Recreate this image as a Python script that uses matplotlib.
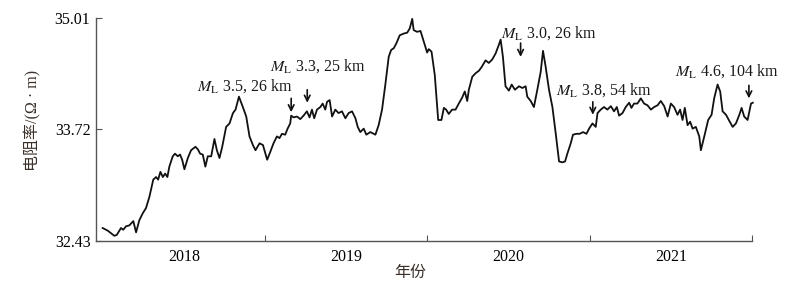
import numpy as np
import matplotlib
matplotlib.use("Agg")
import matplotlib.pyplot as plt

plt.rcParams['font.family'] = ['Liberation Serif', 'Noto Sans CJK SC']
plt.rcParams['mathtext.fontset'] = 'stix'

# time in decimal years, resistivity in ohm*m
years = np.array([
    2017.998, 2018.029, 2018.049, 2018.070, 2018.085, 2018.111, 2018.125, 2018.142, 2018.162, 2018.187,
    2018.204, 2018.224, 2018.245, 2018.265, 2018.286, 2018.310, 2018.327, 2018.340, 2018.354, 2018.369,
    2018.383, 2018.397, 2018.409, 2018.430, 2018.444, 2018.461, 2018.475, 2018.488, 2018.502, 2018.523,
    2018.543, 2018.570, 2018.585, 2018.599, 2018.615, 2018.631, 2018.646, 2018.667, 2018.687, 2018.702,
    2018.718, 2018.735, 2018.759, 2018.780, 2018.801, 2018.817, 2018.838, 2018.862, 2018.883, 2018.903,
    2018.924, 2018.940, 2018.965, 2018.986, 2019.012, 2019.031, 2019.051, 2019.072, 2019.088, 2019.103,
    2019.123, 2019.138, 2019.154, 2019.160, 2019.175, 2019.196, 2019.216, 2019.236, 2019.257, 2019.273,
    2019.288, 2019.302, 2019.319, 2019.340, 2019.354, 2019.370, 2019.381, 2019.397, 2019.412, 2019.432,
    2019.452, 2019.473, 2019.494, 2019.514, 2019.535, 2019.556, 2019.570, 2019.586, 2019.607, 2019.623,
    2019.648, 2019.679, 2019.699, 2019.720, 2019.741, 2019.761, 2019.776, 2019.792, 2019.809, 2019.829,
    2019.854, 2019.875, 2019.891, 2019.906, 2019.915, 2019.936, 2019.957, 2019.977, 2019.998, 2020.008,
    2020.025, 2020.045, 2020.066, 2020.086, 2020.101, 2020.115, 2020.131, 2020.152, 2020.173, 2020.193,
    2020.214, 2020.230, 2020.245, 2020.255, 2020.276, 2020.296, 2020.317, 2020.333, 2020.358, 2020.378,
    2020.399, 2020.420, 2020.440, 2020.451, 2020.465, 2020.481, 2020.502, 2020.519, 2020.539, 2020.564,
    2020.585, 2020.605, 2020.615, 2020.636, 2020.656, 2020.677, 2020.698, 2020.712, 2020.728, 2020.749,
    2020.770, 2020.790, 2020.811, 2020.831, 2020.848, 2020.862, 2020.883, 2020.897, 2020.918, 2020.938,
    2020.959, 2020.980, 2020.996, 2021.017, 2021.037, 2021.048, 2021.068, 2021.088, 2021.109, 2021.130,
    2021.150, 2021.167, 2021.181, 2021.202, 2021.222, 2021.243, 2021.257, 2021.273, 2021.294, 2021.315,
    2021.335, 2021.356, 2021.377, 2021.397, 2021.418, 2021.438, 2021.459, 2021.480, 2021.500, 2021.520,
    2021.541, 2021.557, 2021.572, 2021.586, 2021.603, 2021.619, 2021.634, 2021.654, 2021.675, 2021.685,
    2021.706, 2021.730, 2021.751, 2021.767, 2021.788, 2021.804, 2021.819, 2021.840, 2021.860, 2021.881,
    2021.901, 2021.922, 2021.936, 2021.952, 2021.973, 2021.994, 2022.005,
])
resistivity = np.array([
    32.58, 32.55, 32.52, 32.49, 32.50, 32.58, 32.56, 32.60, 32.61, 32.66,
    32.53, 32.67, 32.75, 32.81, 32.94, 33.14, 33.17, 33.14, 33.23, 33.17,
    33.21, 33.17, 33.29, 33.41, 33.44, 33.41, 33.43, 33.37, 33.26, 33.39,
    33.48, 33.52, 33.49, 33.44, 33.43, 33.29, 33.41, 33.41, 33.61, 33.48,
    33.39, 33.52, 33.75, 33.79, 33.91, 33.95, 34.10, 33.98, 33.87, 33.64,
    33.54, 33.48, 33.56, 33.54, 33.37, 33.46, 33.56, 33.64, 33.62, 33.67,
    33.66, 33.73, 33.79, 33.88, 33.86, 33.87, 33.84, 33.88, 33.93, 33.86,
    33.95, 33.85, 33.95, 33.98, 34.02, 33.95, 34.04, 34.06, 33.87, 33.95,
    33.91, 33.93, 33.85, 33.91, 33.93, 33.85, 33.75, 33.69, 33.73, 33.66,
    33.69, 33.66, 33.77, 33.95, 34.25, 34.56, 34.64, 34.66, 34.72, 34.81,
    34.83, 34.84, 34.89, 35.00, 34.87, 34.85, 34.86, 34.74, 34.61, 34.65,
    34.62, 34.35, 33.83, 33.83, 33.97, 33.95, 33.90, 33.95, 33.95, 34.02,
    34.09, 34.16, 34.05, 34.18, 34.33, 34.37, 34.40, 34.44, 34.52, 34.49,
    34.53, 34.60, 34.70, 34.76, 34.56, 34.22, 34.17, 34.24, 34.18, 34.22,
    34.20, 34.22, 34.10, 34.05, 33.98, 34.18, 34.39, 34.63, 34.45, 34.18,
    33.98, 33.68, 33.35, 33.34, 33.35, 33.44, 33.56, 33.66, 33.67, 33.67,
    33.69, 33.67, 33.73, 33.79, 33.75, 33.91, 33.95, 33.98, 33.95, 33.99,
    33.93, 33.98, 33.88, 33.91, 33.98, 34.03, 33.97, 34.02, 34.02, 34.08,
    34.02, 34.00, 33.95, 33.98, 34.00, 34.05, 33.99, 33.87, 34.02, 33.98,
    33.89, 33.95, 33.83, 33.97, 33.77, 33.81, 33.73, 33.75, 33.64, 33.48,
    33.64, 33.83, 33.89, 34.08, 34.24, 34.16, 33.93, 33.89, 33.82, 33.75,
    33.79, 33.89, 33.97, 33.87, 33.83, 34.02, 34.03,
])

# earthquake annotations: label, arrow x, arrow tail y, arrow head y, text x, text y
quake_labels = [r'$M_{\rm L}$ 3.5, 26 km', r'$M_{\rm L}$ 3.3, 25 km', r'$M_{\rm L}$ 3.0, 26 km',
                r'$M_{\rm L}$ 3.8, 54 km', r'$M_{\rm L}$ 4.6, 104 km']
arrow_x = [2019.160, 2019.259, 2020.574, 2021.019, 2021.981]
arrow_tail = [34.08, 34.18, 34.72, 34.04, 34.23]
arrow_head = [33.92, 34.03, 34.56, 33.89, 34.08]
label_x = [2018.580, 2019.031, 2020.451, 2020.790, 2021.525]
label_y = [34.22, 34.45, 34.84, 34.18, 34.39]

yticks = [32.43, 33.72, 35.01]
year_names = ['2018', '2019', '2020', '2021']
year_mid = [2018.5, 2019.5, 2020.5, 2021.5]
year_bounds = [2019, 2020, 2021, 2022]

fig = plt.figure(figsize=(8.04, 2.97), dpi=100)
ax = fig.add_axes([0.1194, 0.1886, 0.8159, 0.7508])

ax.plot(years, resistivity, color='#111111', lw=1.3, clip_on=False)

for lab, ax_x, t, h, tx, ty in zip(quake_labels, arrow_x, arrow_tail, arrow_head, label_x, label_y):
    ax.annotate('', xy=(ax_x, h), xytext=(ax_x, t),
                arrowprops=dict(arrowstyle='->', lw=1.2, color='#111111',
                                shrinkA=0, shrinkB=0))
    ax.text(tx, ty, lab, fontsize=11.5, color='#1a1a1a', ha='left', va='center')

ax.set_xlim(2017.957, 2022.0)
ax.set_ylim(32.43, 35.01)

ax.set_yticks(yticks)
ax.set_yticklabels(['%.2f' % v for v in yticks])
ax.set_xticks(year_bounds)
ax.set_xticklabels([])
ax.set_xticks(year_mid, minor=True)
ax.set_xticklabels(year_names, minor=True)
ax.tick_params(axis='x', which='minor', length=0, pad=6, labelsize=11.5)
ax.tick_params(axis='x', which='major', direction='in', length=4, color='#555555')
ax.tick_params(axis='y', direction='in', length=4, color='#555555', labelsize=11.5, pad=4)

for side in ['top', 'right']:
    ax.spines[side].set_visible(False)
for side in ['left', 'bottom']:
    ax.spines[side].set_color('#555555')
    ax.spines[side].set_linewidth(1.0)

ax.set_ylabel('电阻率/(Ω · m)', fontsize=11.5, color='#3b3029')
ax.yaxis.set_label_coords(-0.096, 0.54)
ax.set_xlabel('年份', fontsize=11.5, color='#3b3029')
ax.xaxis.set_label_coords(0.479, -0.143)
ax.xaxis.label.set_va('center')
ax.yaxis.label.set_va('center')

fig.savefig('out.png', dpi=100)
